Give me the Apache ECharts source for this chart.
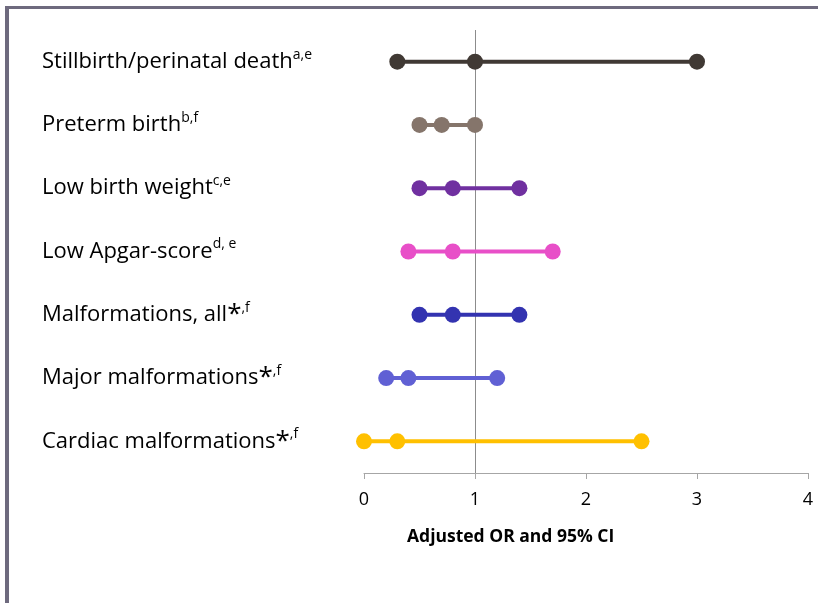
<!DOCTYPE html>
<html>
<head>
<meta charset="utf-8">
<script src="https://cdn.jsdelivr.net/npm/echarts@6/dist/echarts.min.js"></script>
<style>
html,body{margin:0;padding:0;background:#fff;}
#chart{width:818px;height:603px;}
</style>
</head>
<body>
<div id="chart"></div>
<script>
// ---- data ----
var categories = [
  'Stillbirth/perinatal death',
  'Preterm birth',
  'Low birth weight',
  'Low Apgar-score',
  'Malformations, all*',
  'Major malformations*',
  'Cardiac malformations*'
];
var superscripts = ['a,e', 'b,f', 'c,e', 'd, e', ',f', ',f', ',f'];
var lowerCI = [0.3, 0.5, 0.5, 0.4, 0.5, 0.2, 0.0];
var oddsRatio = [1.0, 0.7, 0.8, 0.8, 0.8, 0.4, 0.3];
var upperCI = [3.0, 1.0, 1.4, 1.7, 1.4, 1.2, 2.5];
var xTicks = [0, 1, 2, 3, 4];
var referenceValue = 1;
var axisTitle = 'Adjusted OR and 95% CI';

// ---- styles ----
var colors = ['#403934', '#85756b', '#7030a0', '#e84fc8', '#3333b0', '#6060d4', '#ffc000'];
var FONT = 'Open Sans';

var chart = echarts.init(document.getElementById('chart'), null, {renderer: 'canvas'});

var series = categories.map(function (c, i) {
  var s = {
    type: 'line',
    name: c,
    data: [[lowerCI[i], c], [oddsRatio[i], c], [upperCI[i], c]],
    symbol: 'circle',
    symbolSize: 16,
    showSymbol: true,
    lineStyle: {color: colors[i], width: 4},
    itemStyle: {color: colors[i]},
    z: 3,
    silent: true,
    animation: false
  };
  if (i === 0) {
    s.markLine = {
      silent: true,
      symbol: ['none', 'none'],
      label: {show: false},
      lineStyle: {color: '#8c8c8c', width: 1, type: 'solid'},
      data: [{xAxis: referenceValue}],
      z: 1
    };
  }
  return s;
});

chart.setOption({
  animation: false,
  backgroundColor: '#ffffff',
  grid: {left: 364, right: 10, top: 30, bottom: 130, containLabel: false},
  title: {
    text: axisTitle,
    left: 402,
    top: 523,
    textStyle: {fontFamily: FONT, fontSize: 17.5, fontWeight: 'bold', color: '#000'}
  },
  xAxis: {
    type: 'value',
    min: xTicks[0],
    max: xTicks[xTicks.length - 1],
    interval: 1,
    axisLine: {show: true, lineStyle: {color: '#a6a6a6', width: 1}},
    axisTick: {show: true, length: 6, lineStyle: {color: '#a6a6a6'}},
    splitLine: {show: false},
    axisLabel: {color: '#000', fontFamily: FONT, fontSize: 18, margin: 18}
  },
  yAxis: {
    type: 'category',
    data: categories,
    inverse: true,
    axisLine: {show: false},
    axisTick: {show: false},
    splitLine: {show: false},
    axisLabel: {
      align: 'left',
      margin: 322,
      formatter: function (v, idx) {
        var main = v, star = '';
        if (v.charAt(v.length - 1) === '*') {
          main = v.slice(0, -1);
          star = '{a|*}';
        }
        return '{m|' + main + '}' + star + '{s|' + superscripts[idx] + '}';
      },
      rich: {
        m: {fontFamily: FONT, fontSize: 22, color: '#000', lineHeight: 28, verticalAlign: 'middle'},
        a: {fontFamily: FONT, fontSize: 26, color: '#000', lineHeight: 28, verticalAlign: 'middle'},
        s: {fontFamily: FONT, fontSize: 14, color: '#000', lineHeight: 19, verticalAlign: 'top'}
      }
    }
  },
  graphic: [
    {type: 'rect', shape: {x: 5, y: 6, width: 813, height: 3}, style: {fill: '#6e6a7e'}, silent: true},
    {type: 'rect', shape: {x: 5, y: 6, width: 4, height: 597}, style: {fill: '#6e6a7e'}, silent: true}
  ],
  series: series
});
</script>
</body>
</html>
